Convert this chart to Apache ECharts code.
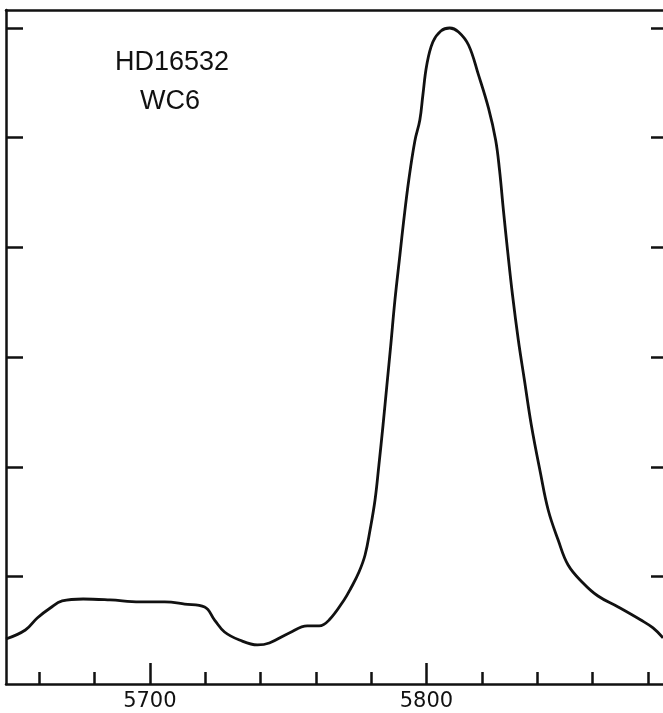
<!DOCTYPE html>
<html>
<head>
<meta charset="utf-8">
<style>
  html, body { margin: 0; padding: 0; background: #fff; }
  #main { width: 663px; height: 713px; }
</style>
<script src="https://cdn.jsdelivr.net/npm/echarts@6/dist/echarts.min.js"></script>
</head>
<body>
<div id="main"></div>
<script>
var wavelengths = [5648.0, 5655.0, 5659.3, 5664.0, 5668.3, 5675.9, 5685.6, 5696.4, 5705.4, 5712.6,
  5719.8, 5723.4, 5727.0, 5732.4, 5738.9, 5743.2, 5750.4, 5756.9, 5761.2, 5764.8,
  5770.2, 5772.7, 5775.6, 5777.8, 5779.6, 5781.4, 5782.8, 5784.3, 5785.7, 5787.1,
  5788.6, 5790.4, 5791.8, 5793.6, 5795.8, 5797.6, 5798.7, 5800.1, 5802.3, 5805.2,
  5808.4, 5811.6, 5815.2, 5818.8, 5822.4, 5825.0, 5826.4, 5827.8, 5829.3, 5831.1,
  5833.2, 5835.4, 5837.9, 5841.2, 5844.0, 5847.6, 5851.2, 5856.6, 5862.0, 5869.3,
  5877.5, 5881.9, 5885.5];
var flux = [-0.570, -0.488, -0.378, -0.287, -0.223, -0.205, -0.214, -0.232, -0.232, -0.251,
  -0.278, -0.397, -0.506, -0.579, -0.624, -0.606, -0.515, -0.451, -0.451, -0.397,
  -0.214, -0.105, 0.041, 0.196, 0.424, 0.697, 1.016, 1.381, 1.746, 2.111,
  2.521, 2.931, 3.250, 3.614, 3.970, 4.161, 4.389, 4.663, 4.872, 4.973,
  5.000, 4.964, 4.845, 4.572, 4.271, 3.979, 3.706, 3.341, 2.976, 2.566,
  2.156, 1.791, 1.381, 0.943, 0.606, 0.333, 0.105, -0.059, -0.178, -0.278,
  -0.397, -0.469, -0.560];

var minorTicks = [5660, 5680, 5720, 5740, 5760, 5780, 5820, 5840, 5860, 5880];
var majorTicks = [5700, 5800];
var yTicks = [0, 1, 2, 3, 4, 5];
var starName = 'HD16532';
var spType = 'WC6';

var points = wavelengths.map(function (w, i) { return [w, flux[i]]; });

var myChart = echarts.init(document.getElementById('main'));

var ink = '#111';
var xMin = 5648, xMax = 5885.5;
var yMin = -0.98, yMax = 5.164;

option = {
  animation: false,
  backgroundColor: '#fff',
  grid: { left: 6, right: -2, top: 10, bottom: 29 },
  xAxis: [
    {
      type: 'value', position: 'bottom', min: xMin, max: xMax,
      axisLine: { show: true, onZero: false, lineStyle: { color: ink, width: 2.5 } },
      axisTick: { show: true, inside: true, length: 12, customValues: minorTicks, lineStyle: { color: ink, width: 2.5 } },
      axisLabel: { show: false },
      splitLine: { show: false }
    },
    {
      type: 'value', position: 'bottom', min: xMin, max: xMax,
      axisLine: { show: false, onZero: false },
      axisTick: { show: true, inside: true, length: 21, customValues: majorTicks, lineStyle: { color: ink, width: 2.5 } },
      axisLabel: {
        show: true, customValues: majorTicks, margin: 7,
        color: ink, fontFamily: 'DejaVu Sans', fontSize: 21,
        formatter: function (v) { return String(v); }
      },
      splitLine: { show: false }
    },
    {
      type: 'value', position: 'top', min: xMin, max: xMax,
      axisLine: { show: true, onZero: false, lineStyle: { color: ink, width: 2.5 } },
      axisTick: { show: false }, axisLabel: { show: false }, splitLine: { show: false }
    }
  ],
  yAxis: [
    {
      type: 'value', position: 'left', min: yMin, max: yMax,
      axisLine: { show: true, onZero: false, lineStyle: { color: ink, width: 2.5 } },
      axisTick: { show: true, inside: true, length: 17, customValues: yTicks, lineStyle: { color: ink, width: 2.5 } },
      axisLabel: { show: false },
      splitLine: { show: false }
    },
    {
      type: 'value', position: 'right', min: yMin, max: yMax,
      axisLine: { show: false, onZero: false },
      axisTick: { show: true, inside: true, length: 12, customValues: yTicks, lineStyle: { color: ink, width: 2.5 } },
      axisLabel: { show: false },
      splitLine: { show: false }
    }
  ],
  graphic: [
    {
      type: 'text', x: 172, y: 63,
      style: { text: starName, fill: ink, font: '27px "Liberation Sans"', textAlign: 'center', textVerticalAlign: 'middle' }
    },
    {
      type: 'text', x: 170, y: 102,
      style: { text: spType, fill: ink, font: '27px "Liberation Sans"', textAlign: 'center', textVerticalAlign: 'middle' }
    }
  ],
  series: [{
    type: 'line',
    data: points,
    xAxisIndex: 0,
    yAxisIndex: 0,
    smooth: 0.4,
    showSymbol: false,
    symbol: 'none',
    lineStyle: { color: ink, width: 2.8 },
    clip: true
  }]
};

myChart.setOption(option);
</script>
</body>
</html>
